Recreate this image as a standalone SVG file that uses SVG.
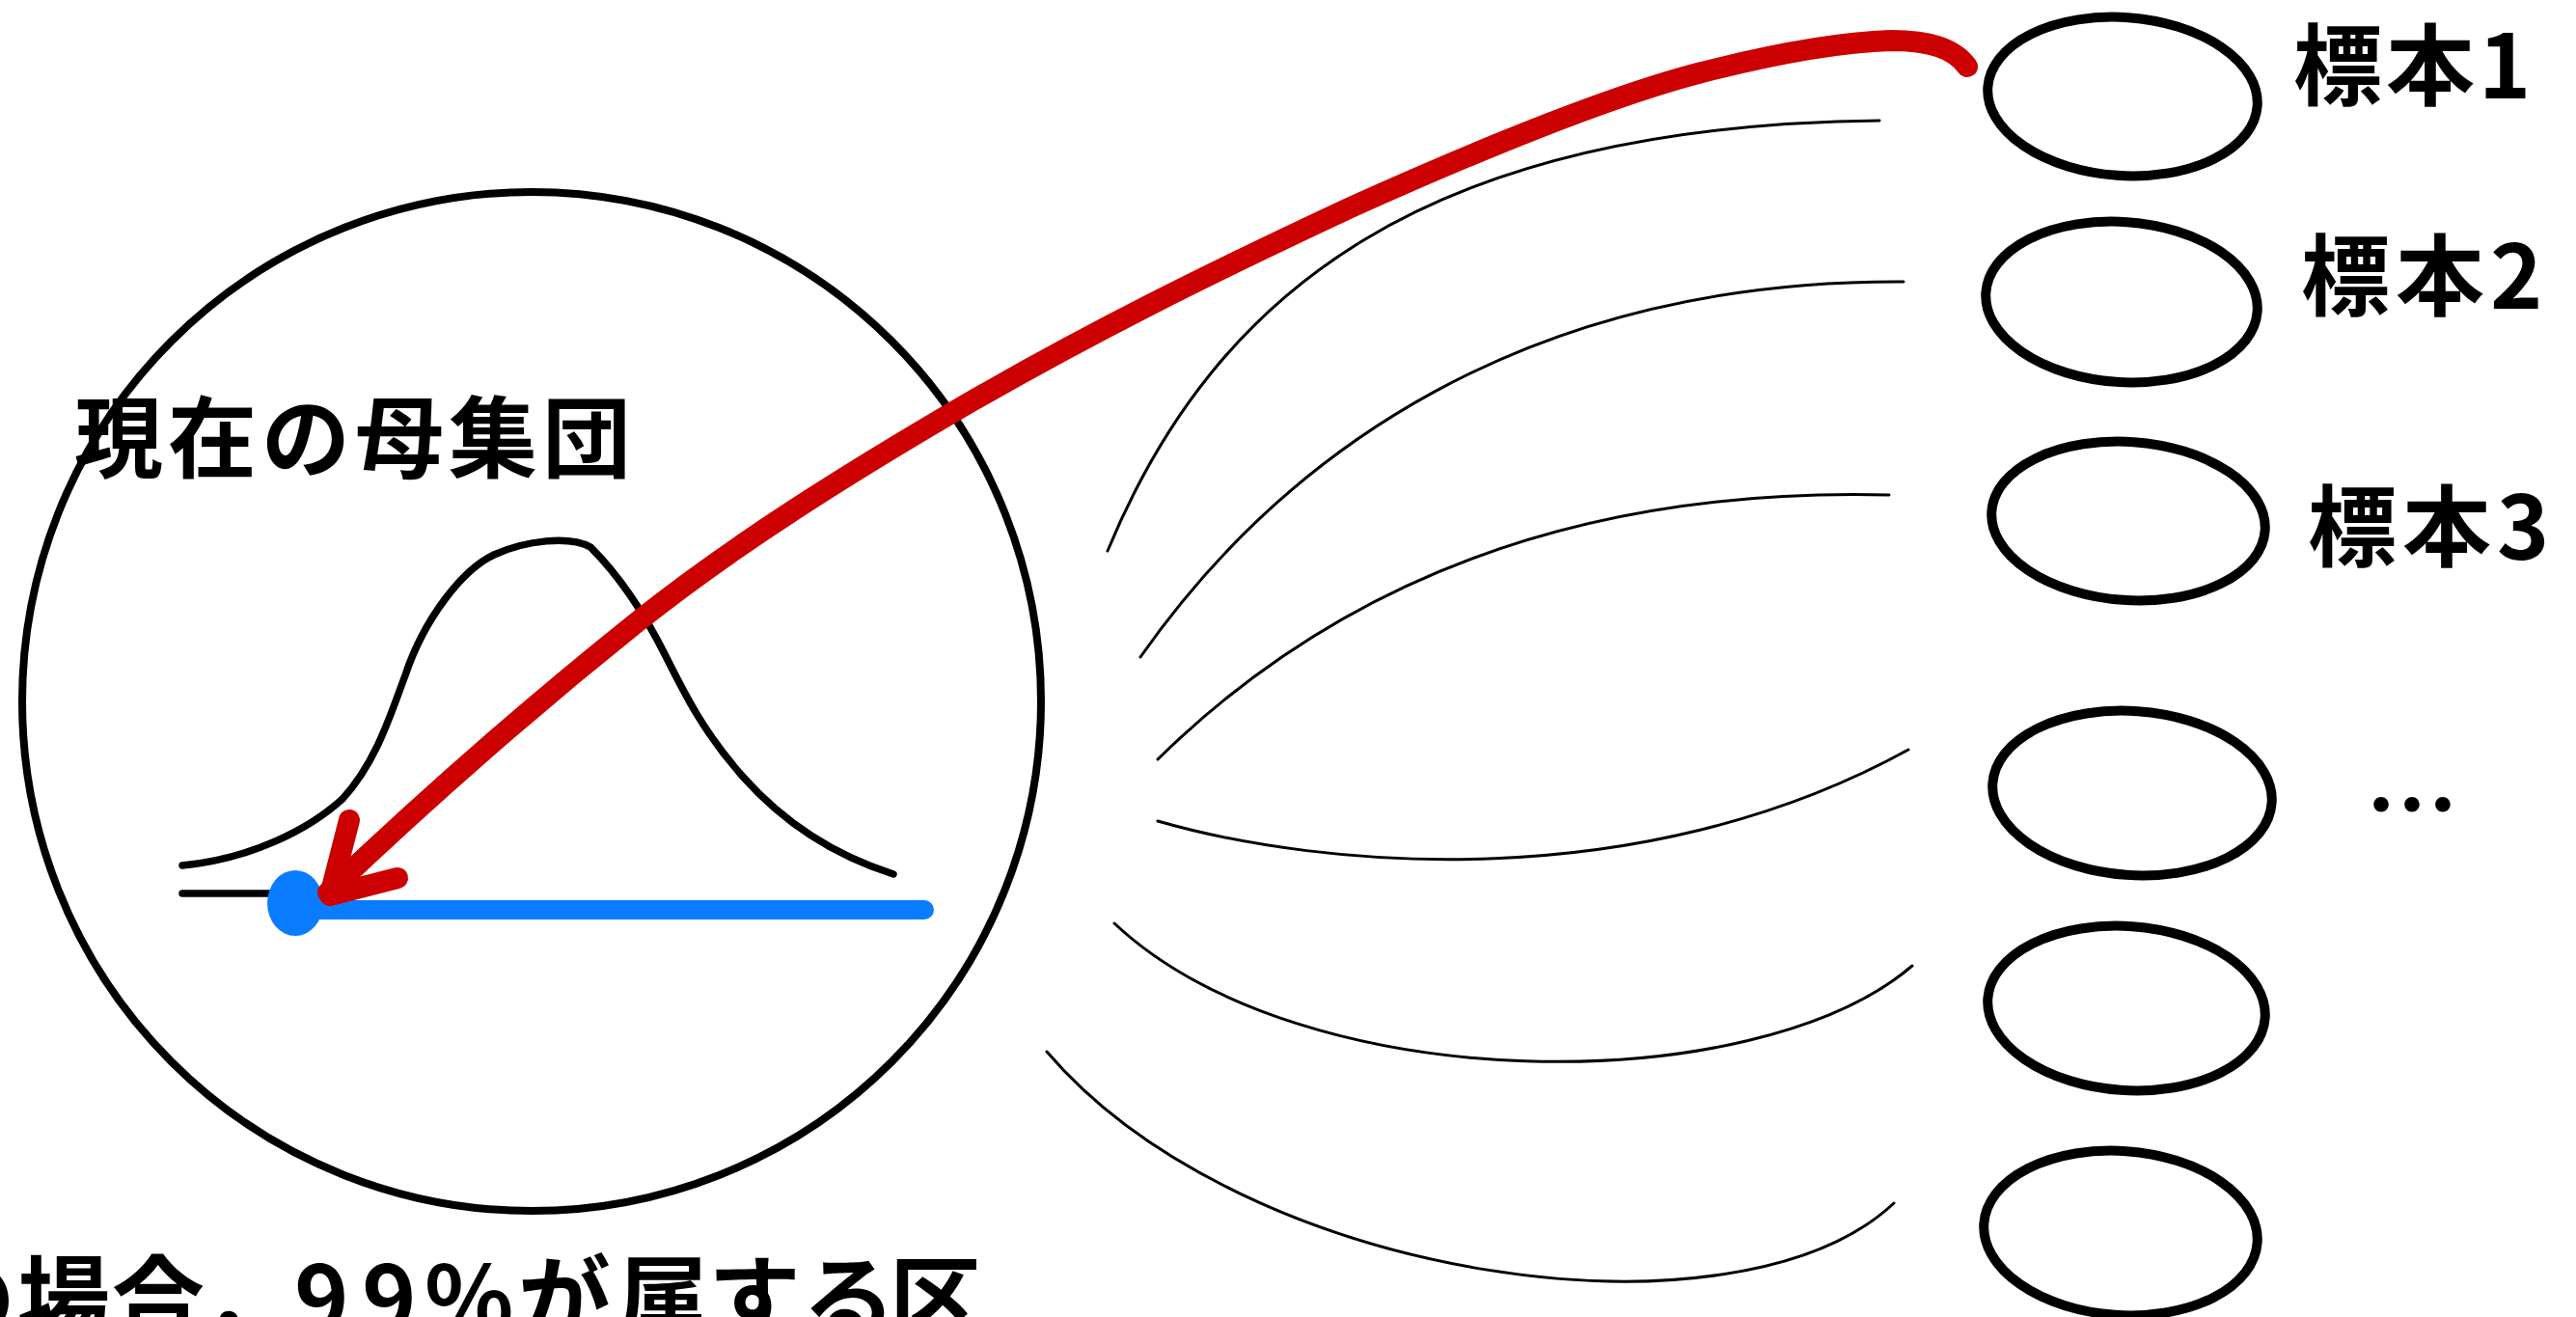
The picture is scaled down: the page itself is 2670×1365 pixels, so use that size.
<svg xmlns="http://www.w3.org/2000/svg" width="2670" height="1365" viewBox="0 0 2670 1365">
<defs>
<style>
.lbl{font-family:"Noto Sans CJK JP","Noto Sans",sans-serif;font-weight:700;fill:#000}
.node{fill:none;stroke:#000;stroke-width:10}
.conn{fill:none;stroke:#000;stroke-width:3;stroke-linecap:round}
.red{fill:none;stroke:#cc0000;stroke-width:22;stroke-linecap:round;stroke-linejoin:round}
.ink{fill:none;stroke:#000;stroke-width:7.5;stroke-linecap:round;stroke-linejoin:round}
</style>
</defs>
<rect width="2670" height="1365" fill="#fff"/>
<g id="population">
<circle cx="551" cy="727" r="528" fill="none" stroke="#000" stroke-width="8"/>
<text class="lbl" x="77" y="488" font-size="92" letter-spacing="5">現在の母集団</text>
<path class="ink" d="M189,897 C260,890 320,860 355,828 C390,790 405,740 420,700 C440,640 480,590 512,575 C545,560 590,555 612,567 C640,595 665,630 690,680 C710,720 730,760 770,805 C810,850 860,885 926,906"/>
<line class="ink" x1="189" y1="926" x2="285" y2="926"/>
<line x1="309" y1="943" x2="958" y2="943" stroke="#0a7cff" stroke-width="20" stroke-linecap="round"/>
<ellipse cx="306" cy="936" rx="29" ry="34" fill="#0a7cff"/>
</g>
<g id="sample1">
<ellipse class="node" cx="2200" cy="100" rx="140" ry="82" transform="rotate(4 2200 100)"/>
<text class="lbl" x="2377" y="102" font-size="92" letter-spacing="4">標本1</text>
</g>
<g id="sample2">
<ellipse class="node" cx="2199" cy="313" rx="141" ry="83" transform="rotate(4 2199 313)"/>
<text class="lbl" x="2385" y="320" font-size="92" letter-spacing="6">標本2</text>
</g>
<g id="sample3">
<ellipse class="node" cx="2206" cy="540" rx="142" ry="82" transform="rotate(4 2206 540)"/>
<text class="lbl" x="2392" y="580" font-size="92" letter-spacing="6">標本3</text>
</g>
<g id="sample4">
<ellipse class="node" cx="2210" cy="822" rx="145" ry="85" transform="rotate(4 2210 822)"/>
<text class="lbl" x="2500" y="870" font-size="96" text-anchor="middle">…</text>
</g>
<g id="sample5">
<ellipse class="node" cx="2204" cy="1045" rx="144" ry="85" transform="rotate(4 2204 1045)"/>
</g>
<g id="sample6">
<ellipse class="node" cx="2198" cy="1278" rx="142" ry="85" transform="rotate(4 2198 1278)"/>
</g>
<g id="caption">
<text class="lbl" font-size="96" y="1381" x="-80 18 116 210 305 375 440 537 639 734 832 922">の場合，99%が属する区</text>
</g>
<g id="connectors">
<path class="conn" d="M1148,571 C1260,300 1480,130 1948,125"/>
<path class="conn" d="M1182,681 C1330,470 1580,290 1973,292"/>
<path class="conn" d="M1200,787 C1390,600 1640,505 1958,513"/>
<path class="conn" d="M1200,851 C1370,900 1700,930 1978,777"/>
<path class="conn" d="M1155,957 C1350,1140 1820,1140 1982,1001"/>
<path class="conn" d="M1085,1090 C1290,1330 1800,1400 1963,1247"/>
<path class="red" d="M2039,69 C2025,50 2000,42 1960,42 C1900,44 1830,58 1760,76 C1650,105 1500,170 1400,215 C1250,285 1130,345 1000,420 C880,490 760,565 660,645 C560,725 450,820 340,925"/>
<path class="red" d="M362,850 L342,928 L412,910"/>
</g>
</svg>
